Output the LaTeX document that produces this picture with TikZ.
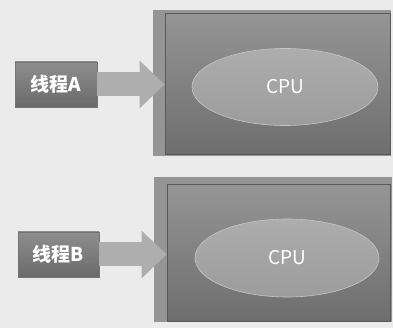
\documentclass[tikz,border=0pt]{standalone}
\usepackage{fontspec}
\setmainfont{Noto Sans CJK SC}
\usetikzlibrary{arrows.meta,shapes.geometric}
\definecolor{bgc}{HTML}{EBEBEB}
\definecolor{boxtop}{HTML}{959595}
\definecolor{boxbot}{HTML}{6E6E6E}
\definecolor{boxshadow}{HTML}{959595}
\definecolor{elltop}{HTML}{ADADAD}
\definecolor{ellbot}{HTML}{9C9C9C}
\definecolor{labtop}{HTML}{8E8E8E}
\definecolor{labbot}{HTML}{6A6A6A}
\definecolor{arrc}{HTML}{AEAEAE}
\tikzset{
  x=1pt, y=-1pt,
  cpubox/.style={draw=black!65, line width=0.6pt, top color=boxtop, bottom color=boxbot, minimum width=225pt, minimum height=141pt, inner sep=0pt},
  shadowbox/.style={fill=boxshadow, minimum width=238pt, minimum height=146pt, inner sep=0pt},
  cpu/.style={ellipse, draw=elltop!70!white, line width=0.6pt, top color=elltop, bottom color=ellbot, minimum width=186pt, minimum height=77pt, inner sep=0pt, text=white, font=\fontsize{19}{22}\selectfont},
  thread/.style={draw=black!55, line width=0.5pt, top color=labtop, bottom color=labbot, minimum width=82pt, minimum height=45pt, inner sep=0pt, text=white, font=\bfseries\fontsize{19}{22}\selectfont},
  fatarrow/.style={draw=arrc, line width=24pt, line cap=butt, -{Triangle[width=46pt,length=25pt]}}
}
\begin{document}
\begin{tikzpicture}
\fill[bgc] (0,0) rectangle (393,328);
\useasboundingbox (0,0) rectangle (393,328);
% top group
\node[shadowbox] (shA) at (272,83) {};
\node[cpubox] (boxA) at (277.5,83.5) {};
\node[cpu] (cpuA) at (285,87) {CPU};
\node[thread] (thA) at (56,84.5) {线程A};
\draw[fatarrow] (thA.east) -- (boxA.west |- thA.east);
% bottom group
\node[shadowbox, minimum height=145pt] (shB) at (273,249.5) {};
\node[cpubox, minimum width=223pt, minimum height=137pt] (boxB) at (278.5,252.5) {};
\node[cpu, minimum width=184pt, minimum height=78pt] (cpuB) at (287,258) {CPU};
\node[thread, minimum width=81pt] (thB) at (58.5,254.5) {线程B};
\draw[fatarrow] (thB.east) -- (boxB.west |- thB.east);
\end{tikzpicture}
\end{document}
